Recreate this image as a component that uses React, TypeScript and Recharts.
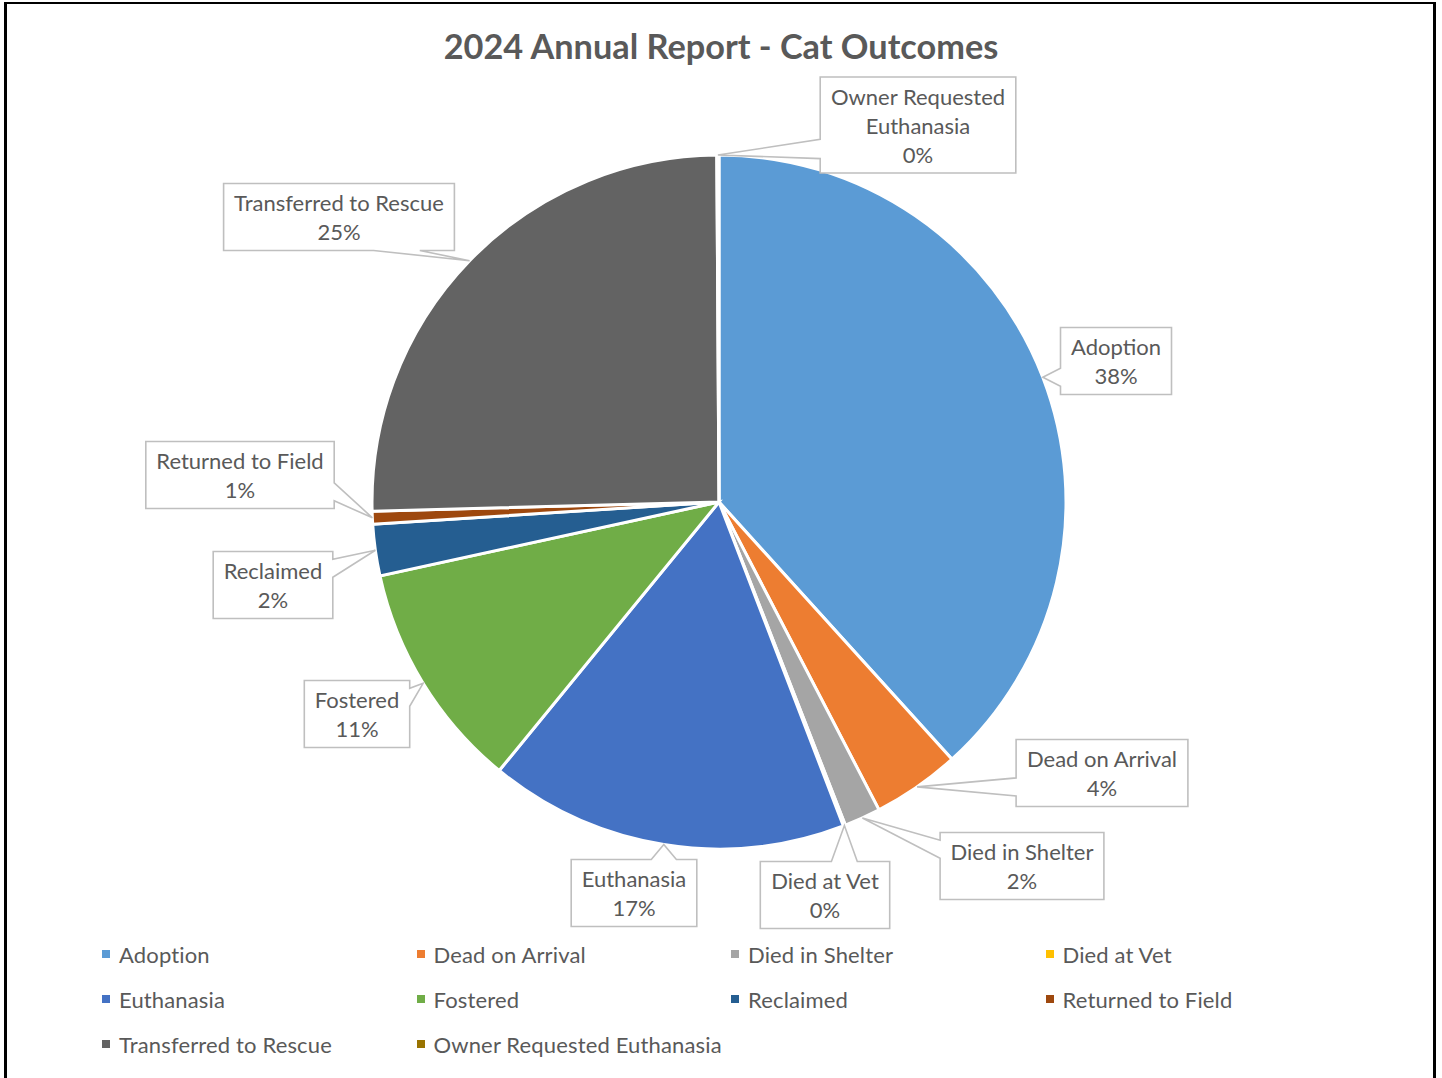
import { PieChart, Pie, Cell, Legend } from "recharts"

const categories = [
  "Adoption",
  "Dead on Arrival",
  "Died in Shelter",
  "Died at Vet",
  "Euthanasia",
  "Fostered",
  "Reclaimed",
  "Returned to Field",
  "Transferred to Rescue",
  "Owner Requested Euthanasia",
]
const outcomeCounts = [384, 41, 17, 1, 168, 107, 24, 6, 254, 1]
const sliceColors = [
  "#5B9BD5",
  "#ED7D31",
  "#A5A5A5",
  "#FFC000",
  "#4472C4",
  "#70AD47",
  "#255E91",
  "#9E480E",
  "#636363",
  "#997300",
]

const TITLE = "2024 Annual Report - Cat Outcomes"

// where each callout box sits, relative to the pie centre (dragged by hand in the original)
const calloutOffsets: [number, number][] = [
  [397, -141],
  [383, 271],
  [303, 364],
  [106, 393],
  [-85, 391],
  [-362, 212],
  [-446, 83],
  [-479, -27],
  [-380, -285],
  [199, -377],
]

const FONT = "Lato, 'Open Sans', sans-serif"
const TEXT_COLOR = "#595959"
const LABEL_SIZE = 22
const LINE_H = 29

const tableData = categories.map((name, i) => ({ name, value: outcomeCounts[i], fill: sliceColors[i] }))

let measureCtx: CanvasRenderingContext2D | null = null
function textWidth(text: string, size = LABEL_SIZE) {
  if (!measureCtx) measureCtx = document.createElement("canvas").getContext("2d")
  if (!measureCtx) return text.length * size * 0.48
  measureCtx.font = `${size}px Lato`
  return measureCtx.measureText(text).width
}

function wrap(text: string, maxW: number) {
  const words = text.split(" ")
  const lines: string[] = []
  let cur = ""
  words.forEach((w) => {
    const next = cur ? cur + " " + w : w
    if (cur && textWidth(next) > maxW) {
      lines.push(cur)
      cur = w
    } else {
      cur = next
    }
  })
  if (cur) lines.push(cur)
  return lines
}

function calloutPath(x0: number, y0: number, w: number, h: number, tx: number, ty: number) {
  const x1 = x0 + w
  const y1 = y0 + h
  const ccx = x0 + w / 2
  const ccy = y0 + h / 2
  const dx = tx - ccx
  const dy = ty - ccy
  const horizontal = Math.abs(dx) / w > Math.abs(dy) / h
  let side = ""
  if (horizontal) side = dx > 0 ? "right" : "left"
  else side = dy > 0 ? "bottom" : "top"

  const base = (len: number, off: number, start: number) => {
    const c = start + len / 2 + Math.max(-0.25 * len, Math.min(0.25 * len, off))
    const hw = Math.max(9, 0.1 * len)
    return [c - hw, c + hw]
  }

  const pts: [number, number][] = [[x0, y0]]
  if (side === "top") {
    const [a, b] = base(w, dx, x0)
    pts.push([a, y0], [tx, ty], [b, y0])
  }
  pts.push([x1, y0])
  if (side === "right") {
    const [a, b] = base(h, dy, y0)
    pts.push([x1, a], [tx, ty], [x1, b])
  }
  pts.push([x1, y1])
  if (side === "bottom") {
    const [a, b] = base(w, dx, x0)
    pts.push([b, y1], [tx, ty], [a, y1])
  }
  pts.push([x0, y1])
  if (side === "left") {
    const [a, b] = base(h, dy, y0)
    pts.push([x0, b], [tx, ty], [x0, a])
  }
  return "M" + pts.map((p) => p[0].toFixed(1) + "," + p[1].toFixed(1)).join("L") + "Z"
}

const renderCallout = (props: any) => {
  const { cx, cy, midAngle, outerRadius, percent, index } = props
  const RAD = Math.PI / 180
  const tx = cx + outerRadius * Math.cos(-midAngle * RAD)
  const ty = cy + outerRadius * Math.sin(-midAngle * RAD)
  const name = props.name ?? categories[index]
  const lines = [...wrap(name, 230), `${Math.round(percent * 100)}%`]
  const w = Math.max(...lines.map((l) => textWidth(l))) + 21
  const h = lines.length * LINE_H + 9
  const [ox, oy] = calloutOffsets[index]
  const x0 = cx + ox - w / 2
  const y0 = cy + oy - h / 2
  return (
    <g key={`callout-${index}`}>
      <path d={calloutPath(x0, y0, w, h, tx, ty)} fill="#fff" stroke="#BFBFBF" strokeWidth={1.6} />
      {lines.map((l, i) => (
        <text
          key={i}
          x={x0 + w / 2}
          y={y0 + 4.5 + LINE_H * (i + 0.5)}
          textAnchor="middle"
          dominantBaseline="central"
          fontFamily={FONT}
          fontSize={LABEL_SIZE}
          fill={TEXT_COLOR}
        >
          {l}
        </text>
      ))}
    </g>
  )
}

const renderLegend = () => (
  <div
    style={{
      display: "grid",
      gridTemplateColumns: "repeat(4, 314.5px)",
      gridAutoRows: "45px",
      fontFamily: FONT,
      fontSize: LABEL_SIZE,
      color: TEXT_COLOR,
    }}
  >
    {tableData.map((d) => (
      <div key={d.name} style={{ display: "flex", alignItems: "center", whiteSpace: "nowrap" }}>
        <span style={{ width: 8, height: 8, background: d.fill, display: "inline-block", marginRight: 9 }} />
        <span style={{ letterSpacing: 0.15 }}>{d.name}</span>
      </div>
    ))}
  </div>
)

export default function App() {
  return (
    <div style={{ position: "absolute", left: 0, top: 0, width: 1442, height: 1078, background: "#fff", overflow: "hidden" }}>
      <div
        style={{
          position: "absolute",
          left: 4,
          top: 2,
          width: 1426,
          height: 1100,
          borderLeft: "3px solid #000",
          borderRight: "3px solid #000",
          borderTop: "2px solid #000",
        }}
      />
      <div
        style={{
          position: "absolute",
          left: 0,
          top: 26,
          width: 1442,
          textAlign: "center",
          fontFamily: FONT,
          fontWeight: 700,
          fontSize: 34.3,
          color: TEXT_COLOR,
          lineHeight: "40px",
        }}
      >
        {TITLE}
      </div>
      <div style={{ position: "absolute", left: 0, top: 0 }}>
        <PieChart width={1442} height={1078} margin={{ top: 0, right: 0, bottom: 0, left: 0 }}>
          <Pie
            data={tableData}
            dataKey="value"
            nameKey="name"
            cx={719}
            cy={502}
            outerRadius={347}
            startAngle={90}
            endAngle={-270}
            stroke="#fff"
            strokeWidth={3}
            label={renderCallout}
            labelLine={false}
            isAnimationActive={false}
          >
            {tableData.map((d, i) => (
              <Cell key={`cell-${i}`} fill={d.fill} />
            ))}
          </Pie>
          <Legend
            content={renderLegend}
            wrapperStyle={{ position: "absolute", left: 102, top: 931.5, width: 1300, bottom: "auto" }}
          />
        </PieChart>
      </div>
    </div>
  )
}
